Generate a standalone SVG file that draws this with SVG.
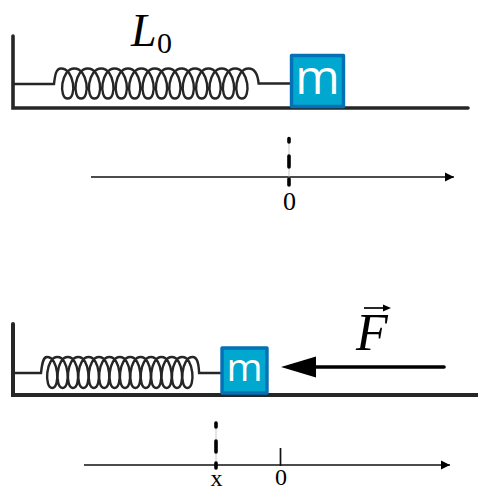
<svg xmlns="http://www.w3.org/2000/svg" width="478" height="490" viewBox="0 0 478 490">
<style>
.struct{fill:none;stroke:#262626;stroke-linecap:round;stroke-linejoin:miter}
.spring{fill:none;stroke:#262626;stroke-width:2.4}
.block{fill:#00a8cf;stroke:#0471b6;stroke-width:3.4;stroke-linejoin:round}
.m{fill:#fff;font-family:"Open Sans",sans-serif;text-anchor:middle}
.axis{fill:none;stroke:#111;stroke-width:1.7}
.guide{fill:none;stroke:#bbb;stroke-width:.8}
.dash{fill:none;stroke:#000;stroke-width:3.6;stroke-linecap:round}
.t{fill:#000;font-family:"Liberation Serif",serif}
.i{font-style:italic}
</style>
<defs>
<marker id="ah" markerUnits="userSpaceOnUse" markerWidth="10" markerHeight="10" refX="9" refY="5" orient="auto"><path d="M0,0.5L9,5L0,9.5z" fill="#000"/></marker>
</defs>
<g id="support-top"><path class="struct" stroke-width="3.6" d="M13,36V108H468"/></g>
<g id="support-bottom"><path class="struct" stroke-width="4" stroke-linecap="butt" d="M13,324V395H478"/></g>
<g id="connectors">
<path class="spring" d="M14,84H54C55,75 56,68.5 61,68.500c13.700,0 16,30 6.700,30c-9.300,0 -7,-30 6.700,-30c13.700,0 16,30 6.700,30c-9.300,0 -7,-30 6.700,-30c13.700,0 16,30 6.700,30c-9.300,0 -7,-30 6.700,-30c13.700,0 16,30 6.700,30c-9.300,0 -7,-30 6.700,-30c13.700,0 16,30 6.700,30c-9.300,0 -7,-30 6.700,-30c13.700,0 16,30 6.700,30c-9.300,0 -7,-30 6.700,-30c13.700,0 16,30 6.700,30c-9.300,0 -7,-30 6.700,-30c13.700,0 16,30 6.700,30c-9.300,0 -7,-30 6.700,-30c13.700,0 16,30 6.700,30c-9.300,0 -7,-30 6.700,-30c13.700,0 16,30 6.700,30c-9.300,0 -7,-30 6.700,-30c13.700,0 16,30 6.700,30c-9.300,0 -7,-30 6.700,-30c13.700,0 16,30 6.700,30c-9.300,0 -7,-30 6.700,-30c13.700,0 16,30 6.700,30c-9.300,0 -7,-30 6.700,-30c13.700,0 16,30 6.700,30c-9.300,0 -7,-30 6.700,-30c5,0 9,4 10,15H291"/>
<path class="spring" d="M14,373H41C42,364 43,357 47,357c11.700,0 13.400,31 5.200,31c-8.200,0 -6.500,-31 5.200,-31c11.700,0 13.400,31 5.200,31c-8.200,0 -6.500,-31 5.200,-31c11.700,0 13.400,31 5.200,31c-8.200,0 -6.500,-31 5.200,-31c11.700,0 13.400,31 5.200,31c-8.200,0 -6.500,-31 5.200,-31c11.700,0 13.400,31 5.200,31c-8.200,0 -6.500,-31 5.200,-31c11.700,0 13.400,31 5.200,31c-8.200,0 -6.500,-31 5.200,-31c11.700,0 13.400,31 5.200,31c-8.200,0 -6.500,-31 5.200,-31c11.700,0 13.400,31 5.200,31c-8.200,0 -6.500,-31 5.200,-31c11.700,0 13.400,31 5.200,31c-8.200,0 -6.500,-31 5.200,-31c11.700,0 13.400,31 5.200,31c-8.200,0 -6.500,-31 5.200,-31c11.700,0 13.400,31 5.200,31c-8.200,0 -6.500,-31 5.200,-31c11.700,0 13.400,31 5.200,31c-8.200,0 -6.500,-31 5.200,-31c11.700,0 13.400,31 5.200,31c-8.200,0 -6.500,-31 5.200,-31c11.700,0 13.400,31 5.200,31c-8.200,0 -6.500,-31 5.200,-31c4,0 6,4 6.500,16H222"/>
<path class="axis" marker-end="url(#ah)" d="M91,177H454"/>
<path class="axis" marker-end="url(#ah)" d="M84,465H450"/>
<path class="axis" d="M280.500,448V466"/>
<path class="guide" d="M289,137V186M216,421V470"/>
<path class="dash" d="M289,138.500V142M289,156V167M289,179V185"/>
<path class="dash" d="M216,423V427M216,441V452M216,463V468"/>
<path fill="none" stroke="#000" stroke-width="3.600" stroke-linecap="round" d="M444,367H312"/>
<path fill="#000" d="M281,367L316,356.500V377.500z"/>
<path fill="none" stroke="#000" stroke-width="1.700" d="M364,308H388"/>
<path fill="#000" d="M391,308L383,304.500V311.500z"/>
</g>
<g id="block-top"><rect class="block" x="291.500" y="55.500" width="52" height="51"/><text class="m" x="317.500" y="94" font-size="48">m</text></g>
<g id="block-bottom"><rect class="block" x="222" y="348" width="45" height="45"/><text class="m" x="244.500" y="381" font-size="39">m</text></g>
<g id="label-L0"><text class="t i" x="131" y="46" font-size="46">L</text><text class="t" x="157" y="53" font-size="30">0</text></g>
<g id="label-F"><text class="t i" x="356" y="350" font-size="52">F</text></g>
<g id="label-0-top"><text class="t" x="289.500" y="210" font-size="26" text-anchor="middle">0</text></g>
<g id="label-x"><text class="t" x="216.500" y="486" font-size="24" text-anchor="middle">x</text></g>
<g id="label-0-bottom"><text class="t" x="281" y="484.500" font-size="24" text-anchor="middle">0</text></g>
</svg>
